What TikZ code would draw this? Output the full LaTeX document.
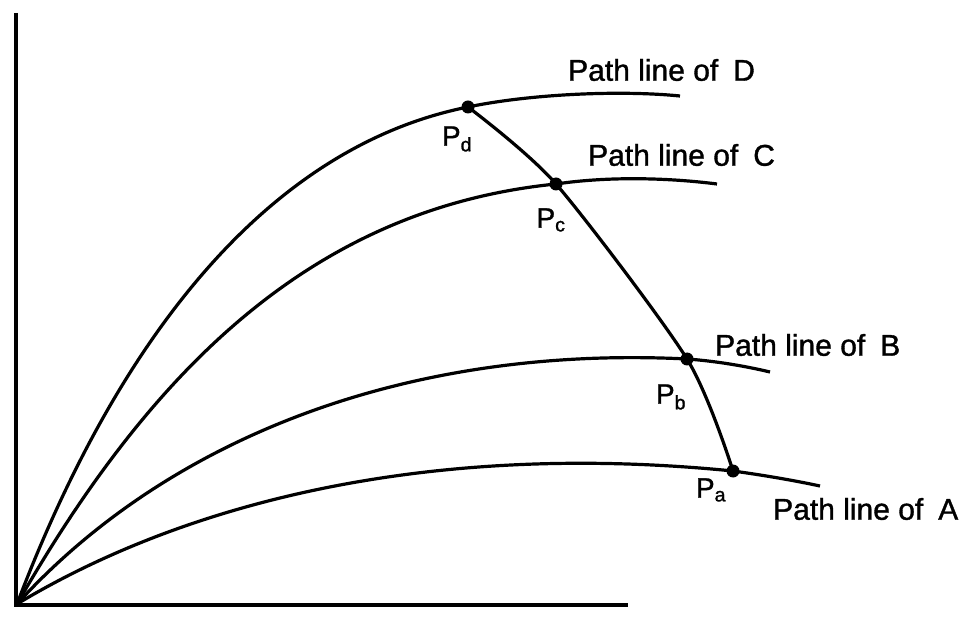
\documentclass[tikz,border=0pt]{standalone}
\usepackage{fontspec}
\setmainfont{Liberation Sans}
\newfontfamily\labelfont{Liberation Sans}[FakeBold=1.2]
\begin{document}
\begin{tikzpicture}[x=1pt,y=-1pt,
  curve/.style={line width=3.2pt},
  axis/.style={line width=3.4pt},
  dot/.style={fill=black},
  pathlabel/.style={anchor=west,inner sep=0pt,font=\labelfont\fontsize{30}{32}\selectfont},
  ptlabel/.style={inner sep=0pt,font=\labelfont\fontsize{28}{30}\selectfont}]
\useasboundingbox (0,0) rectangle (961,617);
% axes
\coordinate (O) at (17,604);
\coordinate (ytop) at (16,13);
\coordinate (xend) at (628,605);
\draw[axis] (ytop) |- (xend);
% points where the front line meets the path lines
\coordinate (Pa) at (733,471);
\coordinate (Pb) at (687,359);
\coordinate (Pc) at (556,184);
\coordinate (Pd) at (468,107);
\coordinate (Ea) at (820,486);
\coordinate (Eb) at (770,372);
\coordinate (Ec) at (717,184);
\coordinate (Ed) at (680,96);
% path lines
\draw[curve] (O) .. controls (118,338) and (268,147) .. (Pd) .. controls (530,94) and (620,90) .. (Ed);
\draw[curve] (O) .. controls (146,379) and (306,209) .. (Pc) .. controls (610,176) and (670,178) .. (Ec);
\draw[curve] (O) .. controls (168,438) and (407,345) .. (Pb) .. controls (715,361) and (745,366) .. (Eb);
\draw[curve] (O) .. controls (188,501) and (433,441) .. (Pa) .. controls (762,475) and (792,480) .. (Ea);
% front through the points
\draw[curve] plot[smooth,tension=0.45] coordinates {(Pd) (Pc) (Pb) (Pa)};
\foreach \p in {Pa,Pb,Pc,Pd}
  \fill[dot] (\p) circle (6.5);
% labels
\node[pathlabel] (labD) at (568,70) {Path line of\enspace D};
\node[pathlabel] (labC) at (588,155) {Path line of\enspace C};
\node[pathlabel] (labB) at (715,345) {Path line of\enspace B};
\node[pathlabel] (labA) at (773,509) {Path line of\enspace A};
\node[ptlabel] (labPd) at (457,139) {P\textsubscript{d}};
\node[ptlabel] (labPc) at (551,220) {P\textsubscript{c}};
\node[ptlabel] (labPb) at (671,397) {P\textsubscript{b}};
\node[ptlabel] (labPa) at (711,490) {P\textsubscript{a}};
\end{tikzpicture}
\end{document}
